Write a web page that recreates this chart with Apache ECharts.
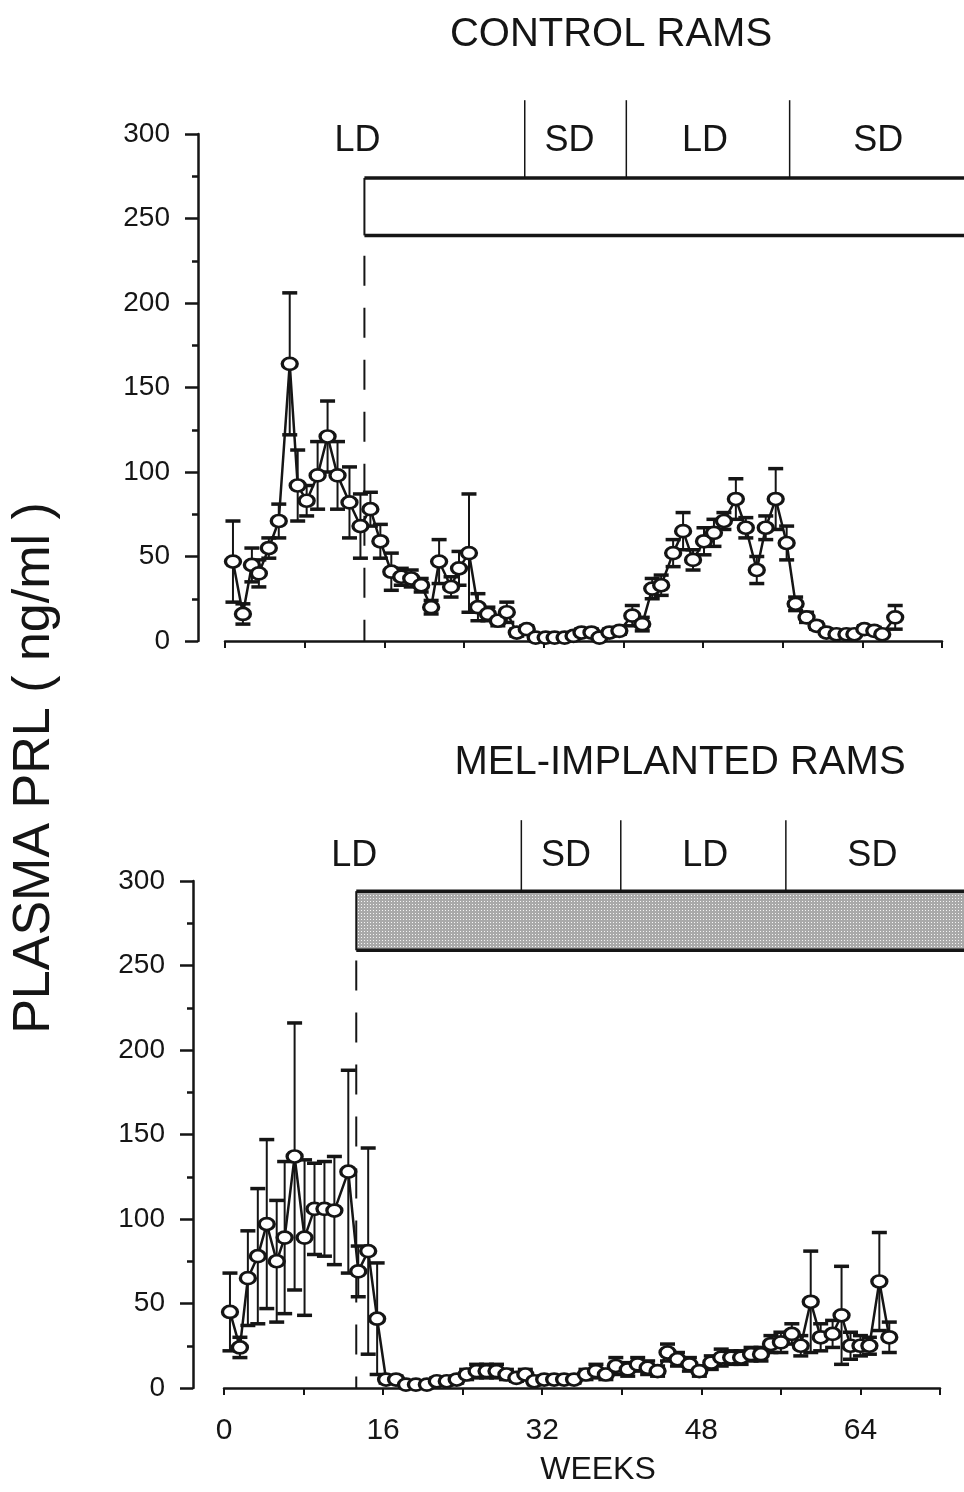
<!DOCTYPE html>
<html>
<head>
<meta charset="utf-8">
<script src="https://cdn.jsdelivr.net/npm/echarts@6/dist/echarts.min.js"></script>
<style>
  html, body { margin: 0; padding: 0; background: #fff; }
  #chart { width: 964px; height: 1492px; }
</style>
</head>
<body>
<div id="chart"></div>
<script>
// Control rams: week of sampling, plasma PRL (ng/ml) and SEM
const ctrlWeeks = [0.8,1.8,2.7,3.4,4.4,5.4,6.5,7.3,8.2,9.3, 10.3,11.3,12.5,13.6,14.6,15.6,16.7,17.7,18.7,19.7,
  20.7,21.5,22.7,23.5,24.5,25.4,26.4,27.4,28.3,29.3, 30.3,31.2,32.2,33.1,34.1,35.0,35.8,36.8,37.6,38.6,
  39.6,40.9,41.9,42.9,43.8,45.0,46.0,47.0,48.1,49.1, 50.1,51.3,52.3,53.4,54.3,55.3,56.4,57.3,58.4,59.4,
  60.4,61.4,62.4,63.2,64.2,65.2,66.0,67.3];
const ctrlPRL = [47,16,45,40,55,71,164,92,83,98, 121,98,82,68,78,59,41,38,37,33,
  20,47,32,43,52,20,16,12,17,5, 7,2,2,2,2,3,5,5,2,5,
  6,15,10,31,33,52,65,48,59,64, 71,84,67,42,67,84,58,22,14,9,
  5,4,4,4,7,6,4,14];
const ctrlSEM = [24,6,10,8,6,10,42,21,9,20, 21,20,21,19,10,10,11,5,5,4,
  4,13,6,10,35,8,4,3,6,2, 2,1,1,1,1,1,2,2,1,2,
  2,6,4,6,6,8,11,6,8,8, 5,12,6,8,7,18,10,4,3,2,
  1,1,1,1,2,2,1,7];

// Melatonin-implanted rams
const melWeeks = [0.6,1.6,2.4,3.4,4.3,5.3,6.1,7.1,8.1,9.1, 10.1,11.1,12.5,13.5,14.5,15.4,16.3,17.3,18.3,19.3,
  20.4,21.4,22.4,23.4,24.4,25.4,26.4,27.4,28.4,29.4, 30.3,31.2,32.2,33.2,34.2,35.2,36.4,37.4,38.4,39.4,
  40.6,41.6,42.6,43.6,44.6,45.6,46.8,47.8,49.0,50.0, 51.0,52.0,53.0,54.0,55.0,56.0,57.1,58.0,59.0,60.0,
  61.2,62.1,63.0,64.0,64.9,65.9,66.9];
const melPRL = [45,24,65,78,97,75,89,137,89,106, 106,105,128,69,81,41,5,5,2,2,
  2,4,4,5,8,10,10,10,8,6, 8,4,5,5,5,5,8,10,8,13,
  11,14,12,10,21,17,14,10,15,18, 18,18,20,20,26,27,32,25,51,30,
  32,43,25,25,25,63,30];
const melSEM = [23,6,28,40,50,36,45,79,46,27, 28,32,60,15,61,33,2,2,1,1,
  1,2,2,2,3,4,4,4,3,2, 3,2,2,2,2,2,3,4,3,5,
  4,4,4,3,5,4,4,3,4,5, 4,4,4,4,5,6,6,6,30,8,
  8,29,8,6,5,29,9];

// Photoperiod schedule (weeks) and treatment bar
const photoLabels = ['LD', 'SD', 'LD', 'SD'];
const ctrlLabelWeeks = [13.3, 34.6, 48.2, 65.6];
const melLabelWeeks = [13.1, 34.4, 48.4, 65.2];
const ctrlSwitchWeeks = [30.1, 40.3, 56.7];
const melSwitchWeeks = [29.9, 39.9, 56.5];
const ctrlTreatStart = 14.0;
const melTreatStart = 13.3;
const treatEnd = 75;
const ctrlBarRange = [240, 274];
const melBarRange = [259, 294];

const yTicks = [0, 50, 100, 150, 200, 250, 300];
const xLabelWeeks = [0, 16, 32, 48, 64];

const FONT = '"Liberation Sans", Arial, sans-serif';
const INK = '#151515';

// stippled fill for the melatonin bar
const stipple = document.createElement('canvas');
stipple.width = 3; stipple.height = 3;
(function () {
  const c = stipple.getContext('2d');
  c.fillStyle = '#a9a9a9'; c.fillRect(0, 0, 3, 3);
  c.fillStyle = '#f4f4f4'; c.fillRect(1, 1, 1, 1);
})();

function errorSeries(gridIdx, weeks, vals, sems) {
  return {
    type: 'custom', xAxisIndex: gridIdx, yAxisIndex: gridIdx, z: 2, clip: false,
    data: weeks.map((w, i) => [w, Math.max(0, vals[i] - sems[i]), vals[i] + sems[i]]),
    renderItem: function (params, api) {
      const lo = api.coord([api.value(0), api.value(1)]);
      const hi = api.coord([api.value(0), api.value(2)]);
      const cw = 7.5;
      const cap = { stroke: INK, lineWidth: 3.5 };
      return { type: 'group', children: [
        { type: 'line', shape: { x1: hi[0], y1: hi[1], x2: lo[0], y2: lo[1] }, style: { stroke: INK, lineWidth: 2 } },
        { type: 'line', shape: { x1: hi[0] - cw, y1: hi[1], x2: hi[0] + cw, y2: hi[1] }, style: cap },
        { type: 'line', shape: { x1: lo[0] - cw, y1: lo[1], x2: lo[0] + cw, y2: lo[1] }, style: cap }
      ] };
    }
  };
}

function lineSeries(gridIdx, weeks, vals) {
  return {
    type: 'line', xAxisIndex: gridIdx, yAxisIndex: gridIdx, z: 3,
    data: weeks.map((w, i) => [w, vals[i]]),
    symbol: 'circle', symbolSize: [15, 12],
    itemStyle: { color: '#fff', borderColor: INK, borderWidth: 3 },
    lineStyle: { color: INK, width: 2.5 },
    animation: false
  };
}

function scheduleSeries(gridIdx, opts) {
  return {
    type: 'custom', xAxisIndex: gridIdx, yAxisIndex: gridIdx, z: 1, clip: false,
    data: [[0, 0]],
    renderItem: function (params, api) {
      const c = (x, y) => api.coord([x, y]);
      const kids = [];
      const tl = c(opts.start, opts.bar[1]);
      const br = c(treatEnd, opts.bar[0]);
      kids.push({ type: 'rect', shape: { x: tl[0], y: tl[1], width: br[0] - tl[0], height: br[1] - tl[1] },
        style: { fill: opts.fill, stroke: null } });
      kids.push({ type: 'line', shape: { x1: tl[0], y1: tl[1], x2: br[0], y2: tl[1] }, style: { stroke: INK, lineWidth: 3.5 } });
      kids.push({ type: 'line', shape: { x1: tl[0], y1: br[1], x2: br[0], y2: br[1] }, style: { stroke: INK, lineWidth: 3.5 } });
      kids.push({ type: 'line', shape: { x1: tl[0], y1: tl[1], x2: tl[0], y2: br[1] }, style: { stroke: INK, lineWidth: 2 } });
      // dashed start of treatment down to the baseline
      const d0 = c(opts.start, opts.dashTop);
      const d1 = c(opts.start, 0);
      kids.push({ type: 'line', shape: { x1: d0[0], y1: d0[1], x2: d1[0], y2: d1[1] },
        style: { stroke: INK, lineWidth: 2, lineDash: [30, 22] } });
      // photoperiod switches
      opts.switches.forEach(w => {
        const a = c(w, opts.sepTop), b = c(w, opts.bar[1]);
        kids.push({ type: 'line', shape: { x1: a[0], y1: a[1], x2: b[0], y2: b[1] }, style: { stroke: INK, lineWidth: 1.5 } });
      });
      photoLabels.forEach((t, i) => {
        const p = c(opts.labelWeeks[i], opts.labelY);
        kids.push({ type: 'text', style: { text: t, x: p[0], y: p[1], fill: INK,
          font: '36px ' + FONT, align: 'center', verticalAlign: 'middle' } });
      });
      return { type: 'group', children: kids };
    }
  };
}

function xAxisDef(gridIdx, showLabels) {
  return {
    type: 'value', gridIndex: gridIdx, min: 0, max: 72, interval: 8,
    axisLine: { show: true, onZero: false, lineStyle: { color: INK, width: 2.5 } },
    axisTick: { show: true, length: 7, lineStyle: { color: INK, width: 2 } },
    axisLabel: {
      show: showLabels, margin: 28, color: INK, fontSize: 30, fontFamily: FONT,
      formatter: v => (xLabelWeeks.indexOf(v) >= 0 ? String(v) : '')
    },
    splitLine: { show: false }
  };
}

function yAxisDef(gridIdx, offset) {
  return {
    type: 'value', gridIndex: gridIdx, min: 0, max: 300, interval: 50, offset: offset,
    axisLine: { show: true, onZero: false, lineStyle: { color: INK, width: 2.5 } },
    axisTick: { show: true, length: 13, lineStyle: { color: INK, width: 2.5 } },
    minorTick: { show: true, splitNumber: 2, length: 6, lineStyle: { color: INK, width: 2.5 } },
    axisLabel: { margin: 28, color: INK, fontSize: 28, fontFamily: FONT,
      formatter: v => (yTicks.indexOf(v) >= 0 ? String(v) : '') },
    splitLine: { show: false }
  };
}

const chart = echarts.init(document.getElementById('chart'), null, { renderer: 'canvas' });
chart.setOption({
  animation: false,
  backgroundColor: '#ffffff',
  grid: [
    { left: 225, right: 22, top: 134, height: 507 },
    { left: 224, right: 24, top: 881, height: 507 }
  ],
  xAxis: [xAxisDef(0, false), xAxisDef(1, true)],
  yAxis: [yAxisDef(0, 27), yAxisDef(1, 31)],
  graphic: [
    { type: 'text', style: { text: 'CONTROL RAMS', x: 611, y: 35, font: '40px ' + FONT, fill: INK, align: 'center', verticalAlign: 'middle' } },
    { type: 'text', style: { text: 'MEL-IMPLANTED RAMS', x: 680, y: 763, font: '40px ' + FONT, fill: INK, align: 'center', verticalAlign: 'middle' } },
    { type: 'text', style: { text: 'WEEKS', x: 598, y: 1470, font: '32px ' + FONT, fill: INK, align: 'center', verticalAlign: 'middle' } },
    { type: 'text', x: 35, y: 768, rotation: Math.PI / 2,
      style: { text: 'PLASMA PRL ( ng/ml )', x: 0, y: 0, font: '52px ' + FONT, fill: INK, align: 'center', verticalAlign: 'middle' } }
  ],
  series: [
    scheduleSeries(0, { start: ctrlTreatStart, bar: ctrlBarRange, fill: '#ffffff', dashTop: 228,
      switches: ctrlSwitchWeeks, sepTop: 320, labelWeeks: ctrlLabelWeeks, labelY: 296 }),
    errorSeries(0, ctrlWeeks, ctrlPRL, ctrlSEM),
    lineSeries(0, ctrlWeeks, ctrlPRL),
    scheduleSeries(1, { start: melTreatStart, bar: melBarRange, fill: { image: stipple, repeat: 'repeat' }, dashTop: 253,
      switches: melSwitchWeeks, sepTop: 336, labelWeeks: melLabelWeeks, labelY: 315 }),
    errorSeries(1, melWeeks, melPRL, melSEM),
    lineSeries(1, melWeeks, melPRL)
  ]
});
</script>
</body>
</html>
